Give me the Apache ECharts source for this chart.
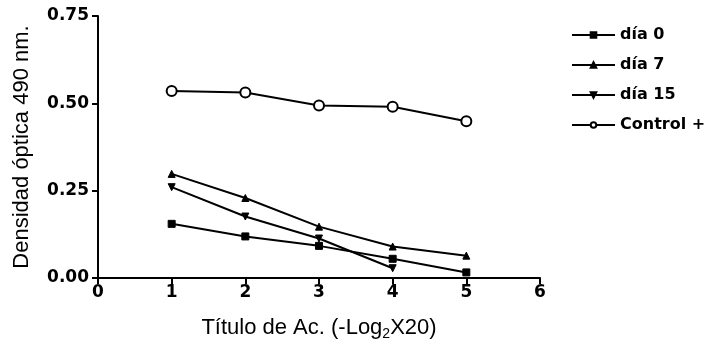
<!DOCTYPE html>
<html>
<head>
<meta charset="UTF-8">
<title>Densidad óptica</title>
<style>
html,body{margin:0;padding:0;background:#fff;}
#main{width:710px;height:347px;}
</style>
</head>
<body>
<div id="main"></div>
<script src="https://cdn.jsdelivr.net/npm/echarts@6/dist/echarts.min.js"></script>
<script>
// datos
var titulos = [1, 2, 3, 4, 5];
var dia0 = [0.155, 0.119, 0.092, 0.055, 0.016];
var dia7 = [0.298, 0.229, 0.147, 0.090, 0.064];
var dia15 = [0.260, 0.176, 0.113, 0.028];
var control = [0.535, 0.531, 0.494, 0.490, 0.449];
var yTicks = [0, 0.25, 0.5, 0.75];

function pares(vals) {
	var out = [];
	for (var i = 0; i < vals.length; i++) {
		out.push([titulos[i], vals[i]]);
	}
	return out;
}

var fuente = 'Liberation Sans';
var fuenteAncha = 'DejaVu Sans';
var myChart = echarts.init(document.getElementById('main'));

function serie(nombre, vals, simbolo, tam, rot) {
	return {
		name: nombre,
		type: 'line',
		data: pares(vals),
		symbol: simbolo,
		symbolSize: tam,
		symbolRotate: rot || 0,
		showAllSymbol: true,
		lineStyle: {color: '#000', width: 2},
		itemStyle: {color: '#000', borderColor: '#000', borderWidth: 1},
		animation: false
	};
}

myChart.setOption({
	backgroundColor: '#fff',
	grid: {left: 98, top: 16, right: 170, bottom: 69},
	legend: {
		orient: 'vertical',
		left: 566,
		top: 22,
		itemWidth: 43,
		itemHeight: 7,
		itemGap: 14,
		textStyle: {fontFamily: fuenteAncha, fontSize: 16, fontWeight: 'bold', color: '#000'},
		data: ['día 0', 'día 7', 'día 15', 'Control +']
	},
	xAxis: {
		type: 'value',
		min: 0, max: 6, interval: 1,
		name: '{a|Título de Ac. (-Log}{s|2}{a|X20)}',
		nameLocation: 'middle',
		nameGap: 37,
		nameTextStyle: {
			rich: {
				a: {fontFamily: fuente, fontSize: 22, color: '#000', lineHeight: 26},
				s: {fontFamily: fuente, fontSize: 14, color: '#000', lineHeight: 26, verticalAlign: 'bottom', padding: [12, 0, 0, 0]}
			}
		},
		splitLine: {show: false},
		axisLine: {lineStyle: {color: '#000', width: 2}},
		axisTick: {length: 6, lineStyle: {color: '#000', width: 2}},
		axisLabel: {fontFamily: fuenteAncha, fontSize: 17, fontWeight: 'bold', color: '#000', margin: 6}
	},
	yAxis: {
		type: 'value',
		min: 0, max: 0.75, interval: 0.25,
		name: 'Densidad óptica 490 nm.',
		nameLocation: 'middle',
		nameGap: 65,
		nameTextStyle: {fontFamily: fuente, fontSize: 22, color: '#000'},
		splitLine: {show: false},
		axisLine: {lineStyle: {color: '#000', width: 2}},
		axisTick: {length: 6, lineStyle: {color: '#000', width: 2}},
		axisLabel: {
			fontFamily: fuenteAncha, fontSize: 17, fontWeight: 'bold', color: '#000', margin: 9,
			formatter: function (v) { return v.toFixed(2); }
		}
	},
	series: [
		serie('día 0', dia0, 'rect', 7),
		serie('día 7', dia7, 'triangle', 7),
		serie('día 15', dia15, 'triangle', 7, 180),
		(function () {
			var s = serie('Control +', control, 'circle', 10);
			s.itemStyle = {color: '#fff', borderColor: '#000', borderWidth: 2};
			return s;
		})()
	]
});
</script>
</body>
</html>
